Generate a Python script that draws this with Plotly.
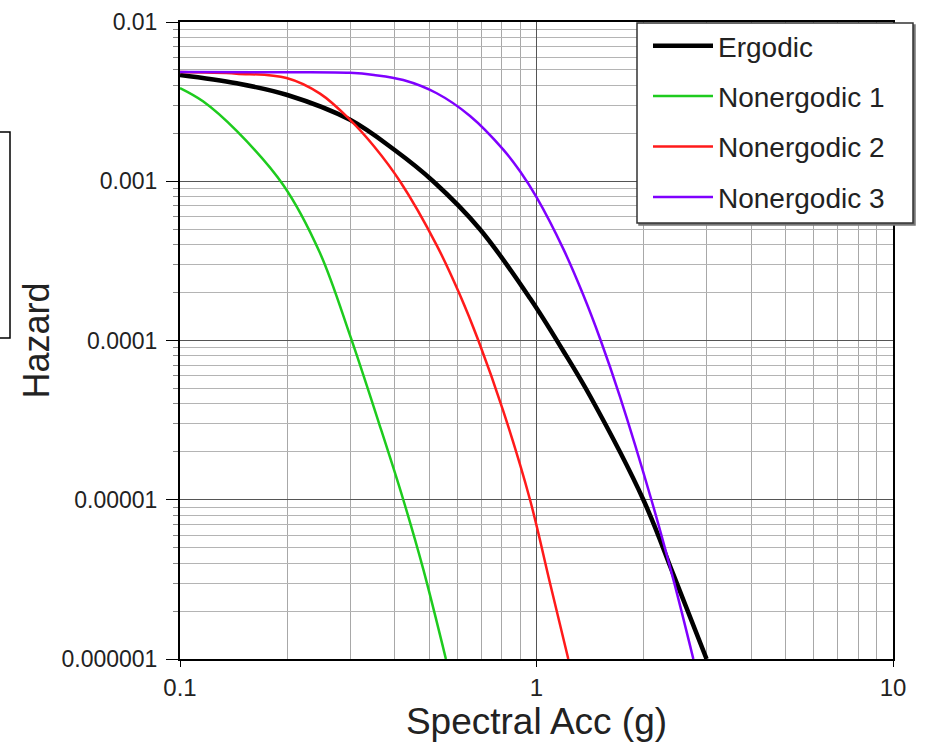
import plotly.graph_objects as go

# ---- data ----
ergodic_x = [0.1, 0.1442, 0.2, 0.3, 0.4, 0.513, 0.694, 0.959, 1.189, 1.413, 1.994, 2.42, 3.0]
ergodic_y = [0.00465, 0.00412, 0.00348, 0.00243, 0.00157, 0.001, 0.0005, 0.000184, 8.59e-5,
             4.48e-5, 1.0e-5, 3.4e-6, 1.0e-6]

ne1_x = [0.1, 0.116, 0.1442, 0.195, 0.247, 0.2997, 0.362, 0.423, 0.4814, 0.557]
ne1_y = [0.00385, 0.00318, 0.00207, 0.000944, 0.000354, 0.000108, 3.0e-5, 1.0e-5, 3.65e-6, 1.0e-6]

ne2_x = [0.1, 0.144, 0.199, 0.247, 0.3, 0.35, 0.414, 0.525, 0.61, 0.687, 0.807, 0.959, 1.091, 1.228]
ne2_y = [0.00485, 0.00474, 0.00445, 0.00355, 0.00243, 0.00166, 0.001, 0.000396, 0.000193, 0.0001,
         3.6e-5, 1.0e-5, 3.0e-6, 1.0e-6]

ne3_x = [0.1, 0.2, 0.3, 0.35, 0.423, 0.525, 0.651, 0.807, 0.9, 1.0, 1.189, 1.353, 1.507, 1.715,
         2.104, 2.42, 2.754]
ne3_y = [0.00485, 0.00484, 0.0048, 0.00465, 0.00432, 0.00357, 0.00257, 0.00158, 0.00115, 0.000794,
         0.000376, 0.000193, 0.000103, 4.43e-5, 9.86e-6, 3.16e-6, 1.0e-6]

x_tickvals = [0.1, 1, 10]
x_ticktext = ["0.1", "1", "10"]
y_tickvals = [1e-6, 1e-5, 1e-4, 1e-3, 1e-2]
y_ticktext = ["0.000001", "0.00001", "0.0001", "0.001", "0.01"]

FONT = "Liberation Sans, Arial, Helvetica, sans-serif"
TXT = "#222222"

# plot-area geometry in pixels (for paper-coordinate decorations)
L, R, T, B, W, H = 180, 33, 22, 85, 926, 744
PW, PH = W - L - R, H - T - B


def px_to_paper_x(px):
    return (px - L) / PW


def px_to_paper_y(py):
    return 1 - (py - T) / PH


fig = go.Figure()
series = [
    ("Ergodic", ergodic_x, ergodic_y, "#000000", 4.5),
    ("Nonergodic 1", ne1_x, ne1_y, "#1ecb1e", 2.5),
    ("Nonergodic 2", ne2_x, ne2_y, "#ff1a1a", 2.5),
    ("Nonergodic 3", ne3_x, ne3_y, "#7f00ff", 2.5),
]
for name, xs, ys, col, w in series:
    fig.add_trace(go.Scatter(x=xs, y=ys, name=name, mode="lines", legendgroup=name,
                             line=dict(color=col, width=w, shape="spline", smoothing=1.0)))

fig.update_xaxes(
    type="log", range=[-1, 1], tickvals=x_tickvals, ticktext=x_ticktext, automargin=False,
    showline=True, mirror=True, linecolor="black", linewidth=2,
    showgrid=True, gridcolor="#555555", gridwidth=1, zeroline=False,
    ticks="outside", tickcolor="black", ticklen=6, tickwidth=1, ticklabelstandoff=0,
    tickfont=dict(family=FONT, size=24, color=TXT),
    minor=dict(dtick="D1", showgrid=True, gridcolor="#a8a8a8", gridwidth=1, ticks=""),
    title=dict(text="Spectral Acc (g)", font=dict(family=FONT, size=37, color=TXT), standoff=4),
)
fig.update_yaxes(
    type="log", range=[-6, -2], tickvals=y_tickvals, ticktext=y_ticktext, automargin=False,
    showline=True, mirror=True, linecolor="black", linewidth=2,
    showgrid=True, gridcolor="#555555", gridwidth=1, zeroline=False,
    ticks="outside", tickcolor="black", ticklen=12, tickwidth=1, ticklabelstandoff=4,
    tickfont=dict(family=FONT, size=23, color=TXT),
    minor=dict(dtick="D1", showgrid=True, gridcolor="#b4b4b4", gridwidth=1,
               ticks="outside", ticklen=5, tickcolor="#888888"),
    title=dict(text="Hazard", font=dict(family=FONT, size=36, color=TXT), standoff=1),
)

# legend frame (with slight drop shadow) drawn as shapes; legend itself is transparent
lg_x0, lg_x1, lg_y0, lg_y1 = 637, 913, 23, 223
shapes = [
    dict(type="rect", xref="paper", yref="paper", layer="above",
         x0=px_to_paper_x(lg_x0 + 2), x1=px_to_paper_x(lg_x1 + 2),
         y0=px_to_paper_y(lg_y1 + 2), y1=px_to_paper_y(lg_y0 + 2),
         line=dict(color="#777777", width=1.5), fillcolor="#777777"),
    dict(type="rect", xref="paper", yref="paper", layer="above",
         x0=px_to_paper_x(lg_x0), x1=px_to_paper_x(lg_x1),
         y0=px_to_paper_y(lg_y1), y1=px_to_paper_y(lg_y0),
         line=dict(color="#333333", width=1.5), fillcolor="white"),
    # stray frame at the far left of the picture
    dict(type="rect", xref="paper", yref="paper",
         x0=px_to_paper_x(-6), x1=px_to_paper_x(10),
         y0=px_to_paper_y(338), y1=px_to_paper_y(132),
         line=dict(color="black", width=1.5), fillcolor="rgba(0,0,0,0)"),
]

fig.update_layout(
    width=W, height=H,
    margin=dict(l=L, r=R, t=T, b=B),
    paper_bgcolor="white", plot_bgcolor="white",
    font=dict(family=FONT, color=TXT),
    legend=dict(x=px_to_paper_x(648), y=px_to_paper_y(21), xanchor="left", yanchor="top",
                bgcolor="rgba(0,0,0,0)", borderwidth=0,
                font=dict(family=FONT, size=28, color=TXT),
                tracegroupgap=11, itemwidth=60),
    shapes=shapes,
)

fig.write_html("out.html", config={"displayModeBar": False},
               post_script="document.body.style.margin='0';")
